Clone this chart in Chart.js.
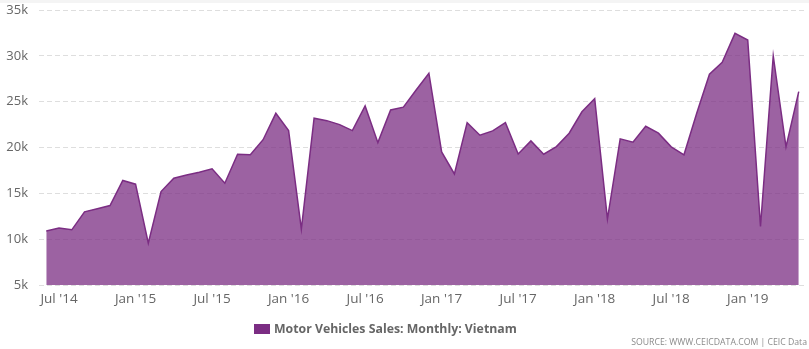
<!DOCTYPE html>
<html>
<head>
<meta charset="utf-8">
<script src="https://cdn.jsdelivr.net/npm/chart.js@4/dist/chart.umd.min.js"></script>
<style>
  html, body { margin: 0; padding: 0; background: #fff; }
  #wrap { position: relative; width: 809px; height: 349px; overflow: hidden; }
  #wrap::after { content: ''; position: absolute; left: 0; top: 0; width: 809px; height: 3px; background: #f4f4f4; }
  canvas { position: absolute; left: 0; top: 0; }
  #legend { position: absolute; left: 254px; top: 320px; font: bold 12.3px 'Open Sans', sans-serif; color: #666; white-space: nowrap; }
  #legend .box { display: inline-block; width: 16px; height: 10px; background: #7b2d83; vertical-align: -1px; margin-right: 4px; }
  #source { position: absolute; right: 2px; top: 336px; font: 8.7px 'Open Sans', sans-serif; color: #8a8a8a; white-space: nowrap; }
</style>
</head>
<body>
<div id="wrap">
  <canvas id="chart" width="809" height="349"></canvas>
  <div id="legend"><span class="box"></span>Motor Vehicles Sales: Monthly: Vietnam</div>
  <div id="source">SOURCE: WWW.CEICDATA.COM | CEIC Data</div>
</div>
<script>
// Jun 2014 .. May 2019
const months = [
  "Jun '14", "Jul '14", "Aug '14", "Sep '14", "Oct '14", "Nov '14", "Dec '14",
  "Jan '15", "Feb '15", "Mar '15", "Apr '15", "May '15", "Jun '15", "Jul '15", "Aug '15", "Sep '15", "Oct '15", "Nov '15", "Dec '15",
  "Jan '16", "Feb '16", "Mar '16", "Apr '16", "May '16", "Jun '16", "Jul '16", "Aug '16", "Sep '16", "Oct '16", "Nov '16", "Dec '16",
  "Jan '17", "Feb '17", "Mar '17", "Apr '17", "May '17", "Jun '17", "Jul '17", "Aug '17", "Sep '17", "Oct '17", "Nov '17", "Dec '17",
  "Jan '18", "Feb '18", "Mar '18", "Apr '18", "May '18", "Jun '18", "Jul '18", "Aug '18", "Sep '18", "Oct '18", "Nov '18", "Dec '18",
  "Jan '19", "Feb '19", "Mar '19", "Apr '19", "May '19"
];

const sales = [
  10880, 11210, 11020, 12980, 13320, 13670, 16400,
  16000, 9570, 15200, 16650, 17000, 17300, 17670, 16100, 19270, 19200, 20850, 23730,
  21840, 11100, 23190, 22930, 22500, 21840, 24530, 20530, 24100, 24400, 26270, 28100,
  19520, 17120, 22710, 21340, 21810, 22710, 19300, 20720, 19270, 20100, 21560, 23900,
  25330, 12190, 20940, 20580, 22320, 21560, 20070, 19200, 23730, 28000, 29300, 32450,
  31720, 11380, 29980, 20070, 26100
];

const yTicks = [5000, 10000, 15000, 20000, 25000, 30000, 35000];

const LINE_COLOR = '#7b2d83';
const FILL_COLOR = 'rgba(123, 45, 131, 0.75)';
const GRID_COLOR = '#dedede';
const TICK_COLOR = '#666';

// label only January and July
const xTicks = months
  .map((m, i) => (m.startsWith('Jan') || m.startsWith('Jul') ? i : -1))
  .filter(i => i >= 0);

new Chart(document.getElementById('chart'), {
  type: 'line',
  data: {
    datasets: [{
      label: 'Motor Vehicles Sales: Monthly: Vietnam',
      data: sales.map((v, i) => ({ x: i, y: v })),
      borderColor: LINE_COLOR,
      backgroundColor: FILL_COLOR,
      borderWidth: 1.5,
      fill: 'start',
      tension: 0,
      pointRadius: 0,
    }],
  },
  options: {
    responsive: false,
    animation: false,
    layout: { padding: { top: 10, right: 4, left: 0, bottom: 40 } },
    plugins: {
      legend: { display: false },
      tooltip: { enabled: false },
    },
    scales: {
      x: {
        type: 'linear',
        min: -0.57,
        max: 59.49,
        afterBuildTicks: scale => { scale.ticks = xTicks.map(v => ({ value: v })); },
        afterFit: scale => { scale.height = 24; },
        grid: { display: false, drawTicks: false },
        border: { display: false },
        ticks: {
          autoSkip: false,
          maxRotation: 0,
          padding: 6,
          color: TICK_COLOR,
          font: { family: 'Open Sans', size: 13.5 },
          callback: v => months[v],
        },
      },
      y: {
        min: 5000,
        max: 35000,
        afterBuildTicks: scale => { scale.ticks = yTicks.map(v => ({ value: v })); },
        afterFit: scale => {
          scale.width = 39;
          // let the top label poke above the plot instead of pushing it down
          scale.paddingTop = 0;
          scale.paddingBottom = 0;
        },
        grid: { color: GRID_COLOR, lineWidth: 1, drawTicks: false },
        border: { display: false, dash: [5, 3] },
        ticks: {
          padding: 11,
          color: TICK_COLOR,
          font: { family: 'Open Sans', size: 13 },
          callback: v => v / 1000 + 'k',
        },
      },
    },
  },
});
</script>
</body>
</html>
